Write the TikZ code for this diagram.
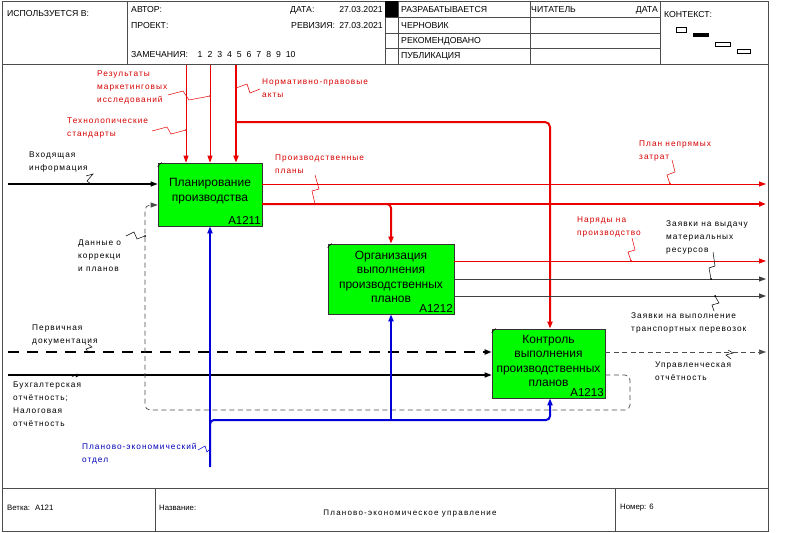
\documentclass[tikz,border=0pt]{standalone}
\usepackage{fontspec}
\setmainfont{Liberation Sans}
\newfontfamily\lblfont[LetterSpace=12]{Liberation Sans}
\newfontfamily\ttlfont[LetterSpace=15]{Liberation Sans}
\usetikzlibrary{arrows.meta,calc}

\definecolor{idefred}{RGB}{235,0,0}
\definecolor{idefblue}{RGB}{0,0,215}
\definecolor{idefgreen}{RGB}{0,250,0}
\definecolor{lblred}{RGB}{215,0,0}
\definecolor{lblblue}{RGB}{0,0,185}

\newcommand\numcell[1]{\makebox[9.8pt][l]{#1}}

\begin{document}
\begin{tikzpicture}[x=1pt,y=-1pt,
  frame/.style={draw=black!70, line width=0.7pt},
  hdr/.style={font=\fontsize{8.7}{10}\selectfont, inner sep=0pt, anchor=west},
  ftr/.style={font=\fontsize{7.8}{10}\selectfont, inner sep=0pt, anchor=west},
  fn/.style={draw=black!80, line width=0.7pt, fill=idefgreen, inner sep=0pt},
  fntitle/.style={font=\fontsize{12}{14.5}\selectfont, align=center, inner sep=0pt},
  fnnum/.style={font=\fontsize{11.5}{13}\selectfont, inner sep=1.5pt, anchor=south east},
  lbl/.style={font=\lblfont\fontsize{8.3}{12.9}\selectfont, align=left, inner sep=0pt, anchor=north west},
  tip/.style={-{Triangle[length=7pt,width=5pt]}},
  redthin/.style={draw=idefred, line width=0.8pt},
  redthick/.style={draw=idefred, line width=2pt},
  blackline/.style={draw=black, line width=1.2pt},
  greyline/.style={draw=black!75, line width=0.8pt},
  thickdash/.style={draw=black, line width=2pt, dash pattern=on 11pt off 8pt},
  thindash/.style={draw=black!70, line width=0.7pt, dash pattern=on 5pt off 3.5pt},
  bluethick/.style={draw=idefblue, line width=2pt},
  squig/.style={line width=0.5pt},
  ctx/.style={draw=black, line width=0.6pt, fill=white}
]
\useasboundingbox (0,0) rectangle (799,532);
\fill[white] (0,0) rectangle (799,532);

% ---------- header ----------
\draw[frame] (2,1) rectangle (768,64);
\foreach \x in {127,385,398,530,660} \draw[frame] (\x,1) -- (\x,64);
\foreach \y in {17.5,33,48.5} \draw[frame] (385,\y) -- (660,\y);
\fill[black] (385,1) rectangle (398,17.5);

\node[hdr] (used) at (7,14) {ИСПОЛЬЗУЕТСЯ В:};
\node[hdr] (author) at (131,10) {АВТОР:};
\node[hdr] (project) at (131,26) {ПРОЕКТ:};
\node[hdr] (notes) at (131,55) {ЗАМЕЧАНИЯ:};
\node[hdr] (notenums) at (197.5,55) {\numcell{1}\numcell{2}\numcell{3}\numcell{4}\numcell{5}\numcell{6}\numcell{7}\numcell{8}\numcell{9}10};
\node[hdr] (date) at (290,10) {ДАТА:};
\node[hdr,anchor=east] (dateval) at (383,10) {27.03.2021};
\node[hdr] (rev) at (291,26) {РЕВИЗИЯ:};
\node[hdr,anchor=east] (revval) at (383,26) {27.03.2021};
\node[hdr] (st1) at (401,10) {РАЗРАБАТЫВАЕТСЯ};
\node[hdr] (st2) at (401,26) {ЧЕРНОВИК};
\node[hdr] (st3) at (401,41) {РЕКОМЕНДОВАНО};
\node[hdr] (st4) at (401,56) {ПУБЛИКАЦИЯ};
\node[hdr] (reader) at (531,10) {ЧИТАТЕЛЬ};
\node[hdr,anchor=east] (rdate) at (658,10) {ДАТА};
\node[hdr] (context) at (664,15) {КОНТЕКСТ:};

% context map
\draw[ctx] (676,27) rectangle (686,32);
\fill[black] (693,33) rectangle (709,37.5);
\draw[ctx] (715,42) rectangle (730,46.5);
\draw[ctx] (737,49) rectangle (750,53.5);

% ---------- diagram frame and footer ----------
\draw[frame] (2,64) -- (2,488);
\draw[frame] (768,64) -- (768,488);
\draw[frame] (2,488) rectangle (768,531);
\draw[frame] (155,488) -- (155,531);
\draw[frame] (615,488) -- (615,531);
\node[ftr] (branch) at (7,508) {Ветка:\hspace{5pt}A121};
\node[ftr] (titlelbl) at (159,508) {Название:};
\node[font=\ttlfont\fontsize{8}{10}\selectfont, inner sep=0pt] (title) at (410,514) {Планово-экономическое управление};
\node[ftr] (number) at (620,508) {Номер: 6};

% ---------- function boxes ----------
\node[fn, minimum width=104pt, minimum height=63pt] (a1) at (210,194.5) {};
\node[fntitle] (a1t) at ($(a1.center)+(0,-3.5)$) {Планирование\\производства};
\node[fnnum] (a1n) at (a1.south east) {A1211};

\node[fn, minimum width=126pt, minimum height=70pt] (a2) at (391,279) {};
\node[fntitle] (a2t) at ($(a2.center)+(0,-2)$) {Организация\\выполнения\\производственных\\планов};
\node[fnnum] (a2n) at (a2.south east) {A1212};

\node[fn, minimum width=113pt, minimum height=69pt] (a3) at (548.5,363.5) {};
\node[fntitle] (a3t) at ($(a3.center)+(0,-2.5)$) {Контроль\\выполнения\\производственных\\планов};
\node[fnnum] (a3n) at (a3.south east) {A1213};

\foreach \b in {a1,a2,a3}
  \draw[line width=0.5pt] ($(\b.north west)+(0,4)$) -- ($(\b.north west)+(4,0)$);

% ---------- controls ----------
\coordinate (c1) at (186,65);
\coordinate (c2) at (210,65);
\coordinate (c3) at (236,65);
\draw[redthin,tip] (c1) -- (c1 |- a1.north);
\draw[redthin,tip] (c2) -- (c2 |- a1.north);
\draw[redthick,tip] (c3) -- (c3 |- a1.north);
\coordinate (j1) at (236,122);
\coordinate (k1) at (550,122);
\draw[redthick,tip,rounded corners=5pt] (j1) -- (k1) -- (k1 |- a3.north);

% ---------- inputs ----------
\coordinate (i1) at (8,184);
\draw[blackline,tip] (i1) -- (i1 -| a1.west);
\coordinate (i2) at (8,352);
\draw[thickdash,tip] (i2) -- (i2 -| a3.west);
\coordinate (i3) at (8,375);
\draw[blackline,tip] (i3) -- (i3 -| a3.west);

% ---------- outputs ----------
\coordinate (o1) at (766,184);
\draw[redthin,tip] (o1 -| a1.east) -- (o1);
\coordinate (o2) at (766,204);
\draw[redthick,tip] (o2 -| a1.east) -- (o2);
\coordinate (j2) at (391,204);
\draw[redthick,tip,rounded corners=4pt] (j2 -| a1.east) -- (j2) -- (a2.north);

\coordinate (o3) at (766,261);
\draw[redthin,tip] (o3 -| a2.east) -- (o3);
\coordinate (o4) at (766,279);
\draw[greyline,tip] (o4 -| a2.east) -- (o4);
\coordinate (o5) at (766,296);
\draw[greyline,tip] (o5 -| a2.east) -- (o5);

\coordinate (o6) at (766,352);
\draw[thindash,tip] (o6 -| a3.east) -- (o6);

% feedback loop
\coordinate (f1) at (630,375);
\coordinate (f2) at (630,410);
\coordinate (f3) at (145,410);
\coordinate (f4) at (145,205);
\draw[thindash,tip,rounded corners=5pt] (f1 -| a3.east) -- (f1) -- (f2) -- (f3) -- (f4) -- (f4 -| a1.west);

% ---------- mechanisms ----------
\coordinate (m1) at (210,467);
\draw[bluethick,tip] (m1) -- (m1 |- a1.south);
\coordinate (m2) at (210,420);
\coordinate (m3) at (550,420);
\draw[bluethick,tip,rounded corners=4pt] (m1) -- (m2) -- (m3) -- (m3 |- a3.south);
\coordinate (m4) at (391,420);
\draw[bluethick,tip] (m4) -- (a2.south);

% ---------- arrow labels ----------
\node[lbl,text=lblred] (l1) at (97,70.5) {Результаты\\маркетинговых\\исследований};
\node[lbl,text=lblred] (l2) at (67,117.5) {Технолопические\\стандарты};
\node[lbl,text=lblred] (l3) at (262,78.5) {Нормативно-правовые\\акты};
\node[lbl] (l4) at (29,151.5) {Входящая\\информация};
\node[lbl,text=lblred] (l5) at (275,154.5) {Производственные\\планы};
\node[lbl,text=lblred] (l6) at (639,140.5) {План непрямых\\затрат};
\node[lbl,text=lblred] (l7) at (577,216.5) {Наряды на\\производство};
\node[lbl] (l8) at (666,220.5) {Заявки на выдачу\\материальных\\ресурсов};
\node[lbl] (l9) at (631,312.5) {Заявки на выполнение\\транспортных перевозок};
\node[lbl] (l10) at (655,361.5) {Управленческая\\отчётность};
\node[lbl] (l11) at (78,239.5) {Данные о\\коррекци\\и планов};
\node[lbl] (l12) at (32,324.5) {Первичная\\документация};
\node[lbl] (l13) at (13,381.5) {Бухгалтерская\\отчётность;\\Налоговая\\отчётность};
\node[lbl,text=lblblue] (l14) at (82,443.5) {Планово-экономический\\отдел};

% ---------- label squiggles ----------
\begin{scope}[squig,draw=idefred,fill=idefred]
  \draw (168,95) -- (183,91) -- (189,100) -- (210,96);
  \fill (210,96) circle (1pt);
  \draw (152,131) -- (167,127) -- (171,134) -- (186,130);
  \fill (186,130) circle (1pt);
  \draw (236,88) -- (247,84) -- (250,93) -- (260,89);
  \fill (236,88) circle (1pt);
  \draw (315,175) -- (319,189) -- (312,191) -- (315,204);
  \fill (315,204) circle (1pt);
  \draw (672,160) -- (675,172) -- (667,175) -- (670,184);
  \fill (670,184) circle (1pt);
  \draw (632,238) -- (635,250) -- (628,252) -- (631,261);
  \fill (631,261) circle (1pt);
\end{scope}
\begin{scope}[squig,draw=black,fill=black]
  \draw (86,176) -- (93,174) -- (87,181) -- (91,184);
  \fill (91,184) circle (1pt);
  \draw (713,252) -- (715,266) -- (709,268) -- (711,279);
  \fill (711,279) circle (1pt);
  \draw (715,296) -- (719,303) -- (712,305) -- (714,311);
  \fill (715,296) circle (1pt);
  \draw (731,359) -- (726,355) -- (733,353) -- (728,350);
  \draw (126,236) -- (134,232) -- (137,239) -- (145,236);
  \fill (145,236) circle (1pt);
  \draw (88,344) -- (92,347) -- (86,349) -- (88,352);
  \fill (88,352) circle (1pt);
  \draw (72,377) -- (77,374) -- (76,377) -- (80,375);
\end{scope}
\begin{scope}[squig,draw=idefblue,fill=idefblue]
  \draw (198,450) -- (205,446) -- (207,452) -- (210,449);
  \fill (210,449) circle (1pt);
\end{scope}
\end{tikzpicture}
\end{document}
